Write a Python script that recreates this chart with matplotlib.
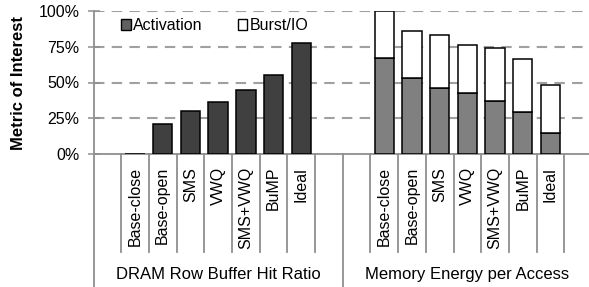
import matplotlib
matplotlib.use("Agg")
import matplotlib.pyplot as plt
from matplotlib.patches import Patch
from matplotlib.transforms import blended_transform_factory

plt.rcParams['font.family'] = ['Liberation Sans', 'DejaVu Sans']

configs = ["Base-close", "Base-open", "SMS", "VWQ", "SMS+VWQ", "BuMP", "Ideal"]
groups = ["DRAM Row Buffer Hit Ratio", "Memory Energy per Access"]
hit_ratio = [0.5, 21.1, 30.4, 36.6, 44.8, 55.0, 77.3]
energy_activation = [66.9, 52.9, 46.0, 42.5, 37.3, 29.2, 15.0]
energy_burst = [33.1, 33.2, 36.9, 33.6, 36.9, 37.2, 33.3]
yticks = [0, 25, 50, 75, 100]
ytick_labels = ["0%", "25%", "50%", "75%", "100%"]

W, H = 589, 287
fig = plt.figure(figsize=(W / 100, H / 100), dpi=100)
x0, x1 = 93.5, 592.0
y0, y1 = 154.3, 10.7
ax = fig.add_axes([x0 / W, 1 - y0 / H, (x1 - x0) / W, (y0 - y1) / H])

GRAY = "#8f8f8f"
slots_per_group = len(configs) + 2
n_slots = slots_per_group * len(groups)

def pos(g, i):
    return g * slots_per_group + 1 + i + 0.5

xs1 = [pos(0, i) for i in range(len(configs))]
xs2 = [pos(1, i) for i in range(len(configs))]
bw = 0.7
ax.bar(xs1, hit_ratio, width=bw, color="#404040", edgecolor="black", linewidth=1.1, zorder=3)
ax.bar(xs2, energy_activation, width=bw, color="#808080", edgecolor="black", linewidth=1.1, zorder=3)
ax.bar(xs2, energy_burst, bottom=energy_activation, width=bw, color="white", edgecolor="black", linewidth=1.1, zorder=3)

ax.set_xlim(0, n_slots)
ax.set_ylim(0, 100)
ax.set_yticks(yticks)
ax.set_yticklabels(ytick_labels, fontsize=11.5)
ax.tick_params(axis='y', direction='inout', length=8, width=1.1, color=GRAY, pad=6)
for y in yticks[1:]:
    ax.axhline(y, color="#a0a0a0", lw=1.5, ls=(0, (5, 3.5)), zorder=1)

ax.set_xticks(xs1 + xs2)
ax.set_xticklabels(configs + configs, rotation=90, fontsize=11.5, va='top', ha='center')
ax.tick_params(axis='x', length=0, pad=9)

for s in ["top", "right"]:
    ax.spines[s].set_visible(False)
for s in ["left", "bottom"]:
    ax.spines[s].set_color(GRAY)
    ax.spines[s].set_linewidth(1.3)

tr = blended_transform_factory(ax.transData, ax.transAxes)
for b in range(n_slots + 1):
    if b % slots_per_group == 0:
        ax.plot([b, b], [0, -1.0], color=GRAY, lw=1.3, transform=tr, clip_on=False)
    else:
        ax.plot([b, b], [0, -0.68], color=GRAY, lw=1.3, transform=tr, clip_on=False)

for g, name in enumerate(groups):
    ax.text(g * slots_per_group + slots_per_group / 2, -0.835, name, transform=tr,
            ha='center', va='center', fontsize=12)

ax.set_ylabel("Metric of Interest", fontsize=12, fontweight='bold', labelpad=10)
ax.yaxis.set_label_coords(-0.136, 0.5)

handles = [Patch(facecolor="#606060", edgecolor="black", linewidth=1.0),
           Patch(facecolor="white", edgecolor="black", linewidth=1.0)]
ax.legend(handles, ["Activation", "Burst/IO"], ncol=2, frameon=False, fontsize=11.5,
          handlelength=0.6, handleheight=0.6, handletextpad=0.15, columnspacing=2.2,
          loc='center left', bbox_to_anchor=((121 - x0) / (x1 - x0), (y0 - 25.7) / (y0 - y1)),
          borderaxespad=0, borderpad=0)

fig.savefig("out.png", dpi=100)
